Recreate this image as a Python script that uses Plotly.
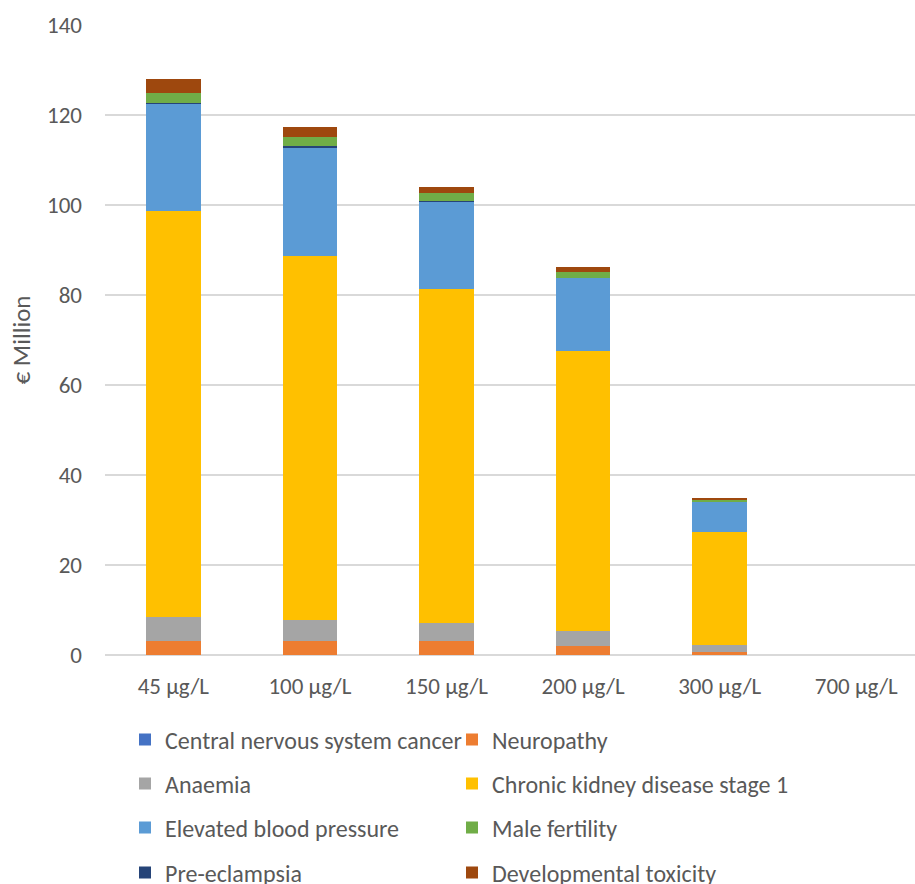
import plotly.graph_objects as go

categories = ["45 µg/L", "100 µg/L", "150 µg/L", "200 µg/L", "300 µg/L", "700 µg/L"]

# Annual costs per health outcome, € million, stacked bottom to top
cns_cancer = [0.05, 0.05, 0.05, 0.04, 0.02, 0.0]
neuropathy = [3.1, 3.1, 3.1, 2.0, 0.7, 0.0]
anaemia = [5.2, 4.6, 4.0, 3.3, 1.5, 0.0]
ckd_stage1 = [90.4, 81.0, 74.2, 62.3, 25.1, 0.0]
elevated_bp = [23.8, 24.1, 19.5, 16.2, 6.8, 0.0]
pre_eclampsia = [0.04, 0.2, 0.04, 0.04, 0.02, 0.0]
male_fertility = [2.2, 2.0, 1.8, 1.3, 0.4, 0.0]
dev_toxicity = [3.2, 2.3, 1.4, 1.1, 0.2, 0.0]

# name, values, colour, legend slot (column, row)
series = [
    ("Central nervous system cancer", cns_cancer, "#4472C4", (0, 0)),
    ("Neuropathy", neuropathy, "#ED7D31", (1, 0)),
    ("Anaemia", anaemia, "#A5A5A5", (0, 1)),
    ("Chronic kidney disease stage 1", ckd_stage1, "#FFC000", (1, 1)),
    ("Elevated blood pressure", elevated_bp, "#5B9BD5", (0, 2)),
    ("Male fertility", male_fertility, "#70AD47", (1, 2)),
    ("Pre-eclampsia", pre_eclampsia, "#264478", (0, 3)),
    ("Developmental toxicity", dev_toxicity, "#9E480E", (1, 3)),
]

# stacking order in the bars
stack_order = [
    "Central nervous system cancer", "Neuropathy", "Anaemia",
    "Chronic kidney disease stage 1", "Elevated blood pressure",
    "Pre-eclampsia", "Male fertility", "Developmental toxicity",
]
lookup = {s[0]: s for s in series}

FONT = "Carlito"
TEXT = "#595959"
PLOT_BOTTOM = 655
PLOT_H = 630
PLOT_L = 105
PLOT_W = 810
LEGEND_COL_X = [125, 452]            # px, left edge of each legend column
LEGEND_ROW_Y = [740, 784, 828, 873]  # px, centre line of each legend row

fig = go.Figure()
legends = {}
for i, name in enumerate(stack_order):
    _, vals, color, (col, row) = lookup[name]
    key = "legend" if i == 0 else f"legend{i + 1}"
    fig.add_trace(go.Bar(
        x=categories, y=vals, name=name, legend=key, showlegend=True,
        marker=dict(color=color, line=dict(width=0)),
        width=0.4,
    ))
    legends[key] = dict(
        x=(LEGEND_COL_X[col] - PLOT_L) / PLOT_W,
        y=(PLOT_BOTTOM - LEGEND_ROW_Y[row]) / PLOT_H,
        xanchor="left", yanchor="middle", orientation="v",
        font=dict(family=FONT, size=24, color=TEXT),
        bgcolor="rgba(0,0,0,0)", borderwidth=0,
        itemclick=False, itemdoubleclick=False,
    )

fig.update_layout(
    width=915, height=884,
    showlegend=True,
    margin=dict(l=PLOT_L, r=0, t=25, b=884 - PLOT_BOTTOM, autoexpand=False),
    paper_bgcolor="white", plot_bgcolor="white",
    barmode="stack",
    font=dict(family=FONT, size=23, color=TEXT),
    xaxis=dict(
        range=[-0.5, 5.43], showgrid=False, showline=False, ticks="",
        automargin=False, ticklabelstandoff=15,
        tickfont=dict(family=FONT, size=23, color=TEXT),
    ),
    yaxis=dict(
        range=[0, 140], dtick=20, showgrid=True, gridcolor="#D9D9D9",
        gridwidth=1.5, zeroline=True, zerolinecolor="#D9D9D9", zerolinewidth=1.5,
        showline=False, ticks="", ticklabelstandoff=22, automargin=False,
        tickfont=dict(family=FONT, size=23, color=TEXT),
        title=dict(text="€ Million", font=dict(family=FONT, size=25, color=TEXT), standoff=9),
    ),
    **legends,
)

fig.write_html("out.html")
